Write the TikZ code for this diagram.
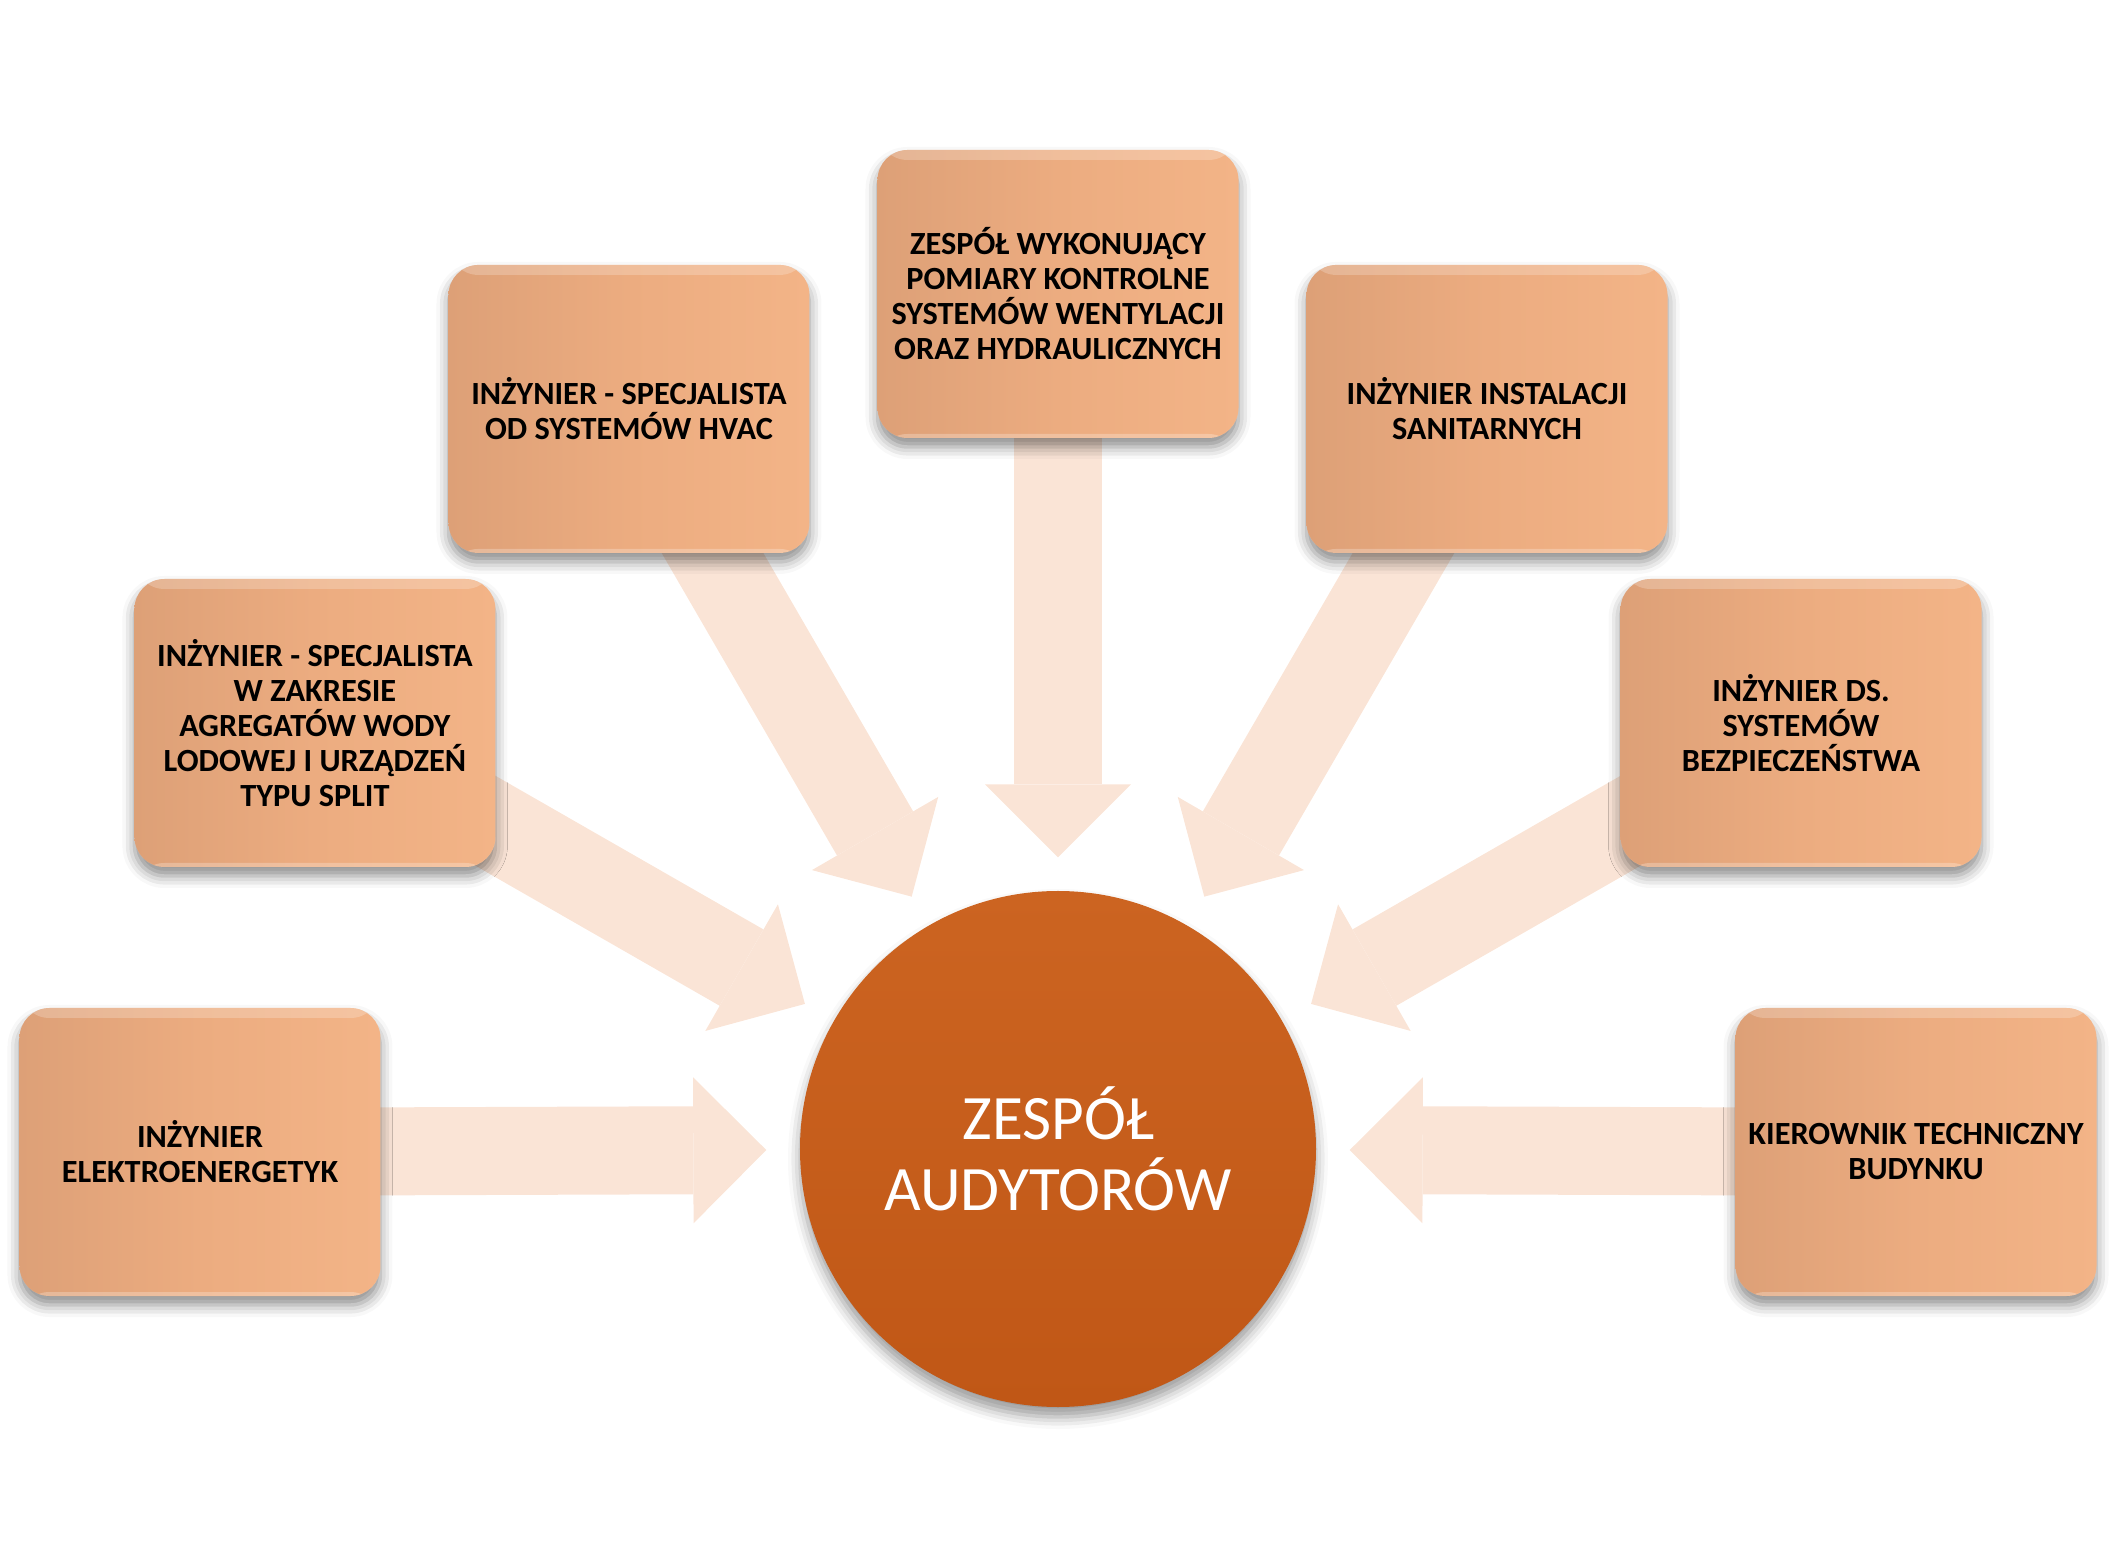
\documentclass[tikz,border=0pt]{standalone}
\usepackage{fontspec}
\setmainfont{Carlito}
\usetikzlibrary{arrows.meta,backgrounds,shadows.blur}
\definecolor{Peach}{HTML}{FAE4D6}
\definecolor{BoxLeft}{HTML}{DDA077}
\definecolor{BoxMid}{HTML}{ECAC80}
\definecolor{BoxRight}{HTML}{F3B487}
\definecolor{HubTop}{HTML}{CC6421}
\definecolor{HubBottom}{HTML}{C05716}

\begin{document}
\begin{tikzpicture}[
  role/.style={rounded corners=3mm,minimum width=3.61cm,minimum height=2.88cm,left color=BoxLeft,right color=BoxRight,middle color=BoxMid,align=center,font=\fontsize{9.2}{9.96}\selectfont\bfseries,
    path picture={\fill[white,fill opacity=0.22] (path picture bounding box.north west) rectangle ([yshift=-0.1cm]path picture bounding box.north east);
      \fill[white,fill opacity=0.25] (path picture bounding box.south west) rectangle ([yshift=0.04cm]path picture bounding box.south east);},
    blur shadow={shadow xshift=0cm,shadow yshift=-0.09cm,shadow blur radius=0.12cm,shadow opacity=45}},
  hub/.style={circle,minimum size=5.16cm,top color=HubTop,bottom color=HubBottom,text=white,align=center,font=\fontsize{18}{20.3}\selectfont,
    blur shadow={shadow xshift=0cm,shadow yshift=-0.1cm,shadow blur radius=0.12cm,shadow opacity=40}},
  flow/.style={draw=Peach,line width=0.88cm,-{Triangle[width=1.46cm,length=0.73cm,line width=0pt]},shorten >=0.33cm}
]
\useasboundingbox (-10.58,-4.07) rectangle (10.70,11.52);
\node[hub] (hub) at (0,0.03) {ZESPÓŁ\\AUDYTORÓW};
\node[role] (elek) at (180:8.58) {INŻYNIER\\ELEKTROENERGETYK};
\node[role] (agreg) at (150:8.58) {INŻYNIER - SPECJALISTA\\W ZAKRESIE\\AGREGATÓW WODY\\LODOWEJ I URZĄDZEŃ\\TYPU SPLIT};
\node[role] (hvac) at (120:8.58) {INŻYNIER - SPECJALISTA\\OD SYSTEMÓW HVAC};
\node[role] (pomiary) at (90:8.58) {ZESPÓŁ WYKONUJĄCY\\POMIARY KONTROLNE\\SYSTEMÓW WENTYLACJI\\ORAZ HYDRAULICZNYCH};
\node[role] (sanit) at (60:8.58) {INŻYNIER INSTALACJI\\SANITARNYCH};
\node[role] (bezp) at (30:8.58) {INŻYNIER DS.\\SYSTEMÓW\\BEZPIECZEŃSTWA};
\node[role] (kier) at (0:8.58) {KIEROWNIK TECHNICZNY\\BUDYNKU};
\begin{scope}[on background layer]
\foreach \b in {elek,agreg,hvac,pomiary,sanit,bezp,kier} {
  \draw[flow] (\b.center) -- (hub);
}
\end{scope}
\end{tikzpicture}
\end{document}
